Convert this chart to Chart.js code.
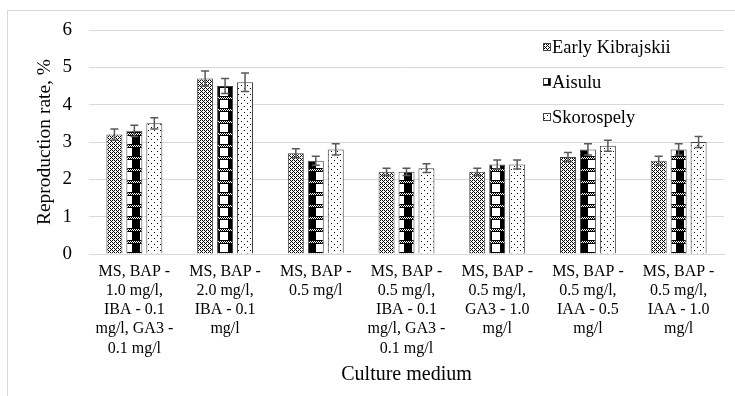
<!DOCTYPE html>
<html>
<head>
<meta charset="utf-8">
<script src="https://cdn.jsdelivr.net/npm/chart.js@4.4.1/dist/chart.umd.min.js"></script>
<style>
  html, body { margin: 0; padding: 0; background: #fff; }
  #frame { position: absolute; left: 7px; top: 10px; width: 740px; height: 400px; border: 1px solid #d9d9d9; }
  #chart { position: absolute; left: 0; top: 0; }
</style>
</head>
<body>
<div id="frame"></div>
<canvas id="chart" width="735" height="396"></canvas>
<script>
// データ
const categories = [
    ['MS, BAP -', '1.0 mg/l,', 'IBA - 0.1', 'mg/l, GA3 -', '0.1 mg/l'],
    ['MS, BAP -', '2.0 mg/l,', 'IBA - 0.1', 'mg/l'],
    ['MS, BAP -', '0.5 mg/l'],
    ['MS, BAP -', '0.5 mg/l,', 'IBA - 0.1', 'mg/l, GA3 -', '0.1 mg/l'],
    ['MS, BAP -', '0.5 mg/l,', 'GA3 - 1.0', 'mg/l'],
    ['MS, BAP -', '0.5 mg/l,', 'IAA - 0.5', 'mg/l'],
    ['MS, BAP -', '0.5 mg/l,', 'IAA - 1.0', 'mg/l']
];
const seriesNames = ['Early Kibrajskii', 'Aisulu', 'Skorospely'];
const earlyKibrajskii = [3.2, 4.7, 2.7, 2.2, 2.2, 2.6, 2.5];
const aisulu = [3.3, 4.5, 2.5, 2.2, 2.4, 2.8, 2.8];
const skorospely = [3.5, 4.6, 2.8, 2.3, 2.4, 2.9, 3.0];
const errEarly = [0.15, 0.2, 0.12, 0.1, 0.1, 0.12, 0.12];
const errAisulu = [0.15, 0.2, 0.12, 0.1, 0.12, 0.15, 0.15];
const errSkoro = [0.15, 0.25, 0.15, 0.12, 0.12, 0.15, 0.15];
const yTicks = [0, 1, 2, 3, 4, 5, 6];

const serif = "'Liberation Serif', 'Times New Roman', serif";

// パターン作成
function makePattern(w, h, draw) {
    const c = document.createElement('canvas');
    c.width = w; c.height = h;
    const g = c.getContext('2d');
    g.fillStyle = '#fff';
    g.fillRect(0, 0, w, h);
    g.fillStyle = '#000';
    draw(g);
    return g.createPattern(c, 'repeat');
}

// 斜め格子
const patCross = makePattern(4, 4, (g) => {
    for (let y = 0; y < 4; y++) {
        for (let x = 0; x < 4; x++) {
            if ((x + y) % 4 === 0 || ((x - y) + 4) % 4 === 2) g.fillRect(x, y, 1, 1);
        }
    }
});

// 黒い縦帯 + チェック帯
const patBlock = makePattern(16, 12, (g) => {
    g.fillRect(4, 0, 8, 12);
    g.fillStyle = '#fff';
    g.fillRect(0, 0, 16, 4);
    g.fillStyle = '#000';
    for (let y = 1; y < 3; y++) {
        for (let x = 0; x < 16; x++) {
            if ((x + y) % 2 === 0) g.fillRect(x, y, 1, 1);
        }
    }
    g.fillRect(0, 0, 16, 1);
    g.fillRect(0, 3, 16, 1);
});

// 点
const patDots = makePattern(6, 6, (g) => {
    g.fillRect(1, 1, 1, 1);
    g.fillRect(4, 4, 1, 1);
});

const patterns = [patCross, patBlock, patDots];
const errors = [errEarly, errAisulu, errSkoro];

// 誤差棒
const errorBars = {
    id: 'errorBars',
    afterDatasetsDraw(chart) {
        const ctx = chart.ctx;
        const y = chart.scales.y;
        ctx.save();
        ctx.strokeStyle = '#595959';
        ctx.lineWidth = 1.5;
        chart.data.datasets.forEach((ds, i) => {
            const meta = chart.getDatasetMeta(i);
            meta.data.forEach((bar, j) => {
                const v = ds.data[j];
                const e = errors[i][j];
                const top = y.getPixelForValue(v + e);
                const bot = y.getPixelForValue(v - e);
                const x = bar.x;
                ctx.beginPath();
                ctx.moveTo(x, top); ctx.lineTo(x, bot);
                ctx.moveTo(x - 4, top); ctx.lineTo(x + 4, top);
                ctx.moveTo(x - 4, bot); ctx.lineTo(x + 4, bot);
                ctx.stroke();
            });
        });
        ctx.restore();
    }
};

// 凡例 (プロット内)
const innerLegend = {
    id: 'innerLegend',
    afterDraw(chart) {
        const ctx = chart.ctx;
        ctx.save();
        ctx.font = '18.5px ' + serif;
        ctx.textBaseline = 'middle';
        const x0 = 543;
        const ys = [47, 82, 117];
        chart.data.datasets.forEach((ds, i) => {
            ctx.fillStyle = '#fff';
            ctx.fillRect(x0 - 1, ys[i] - 6, 11, 12);
            ctx.fillStyle = patterns[i];
            ctx.fillRect(x0, ys[i] - 4, 8, 8);
            ctx.strokeStyle = '#404040';
            ctx.lineWidth = 1;
            ctx.strokeRect(x0 + 0.5, ys[i] - 3.5, 7, 7);
            ctx.fillStyle = '#000';
            ctx.fillText(ds.label, x0 + 9, ys[i] + 1);
        });
        ctx.restore();
    }
};

new Chart(document.getElementById('chart'), {
    type: 'bar',
    data: {
        labels: categories,
        datasets: [earlyKibrajskii, aisulu, skorospely].map((d, i) => ({
            label: seriesNames[i],
            data: d,
            backgroundColor: patterns[i],
            borderColor: '#404040',
            borderWidth: 1,
            barPercentage: 0.8,
            categoryPercentage: 0.66
        }))
    },
    options: {
        responsive: false,
        animation: false,
        layout: { padding: { left: 0, right: 11, top: 30, bottom: 0 } },
        plugins: {
            legend: { display: false },
            tooltip: { enabled: false }
        },
        scales: {
            x: {
                grid: { display: false, drawTicks: false },
                border: { display: true, color: '#d9d9d9', width: 1 },
                ticks: {
                    color: '#000',
                    font: { family: serif, size: 16, lineHeight: 1.2 },
                    padding: 8,
                    maxRotation: 0,
                    autoSkip: false
                },
                title: {
                    display: true,
                    text: 'Culture medium',
                    color: '#000',
                    font: { family: serif, size: 20 },
                    padding: { top: 0, bottom: 9 }
                },
                afterFit(scale) { scale.height = 142; }
            },
            y: {
                min: 0,
                max: 6,
                afterBuildTicks(scale) { scale.ticks = yTicks.map(v => ({ value: v })); },
                grid: { color: '#d9d9d9', lineWidth: 1, drawTicks: false },
                border: { display: false },
                ticks: {
                    color: '#000',
                    font: { family: serif, size: 19 },
                    padding: 17
                },
                title: {
                    display: true,
                    text: 'Reproduction rate, %',
                    color: '#000',
                    font: { family: serif, size: 19.5 },
                    padding: { top: 33, bottom: 0 }
                },
                afterFit(scale) { scale.width = 89; }
            }
        }
    },
    plugins: [errorBars, innerLegend]
});
</script>
</body>
</html>
